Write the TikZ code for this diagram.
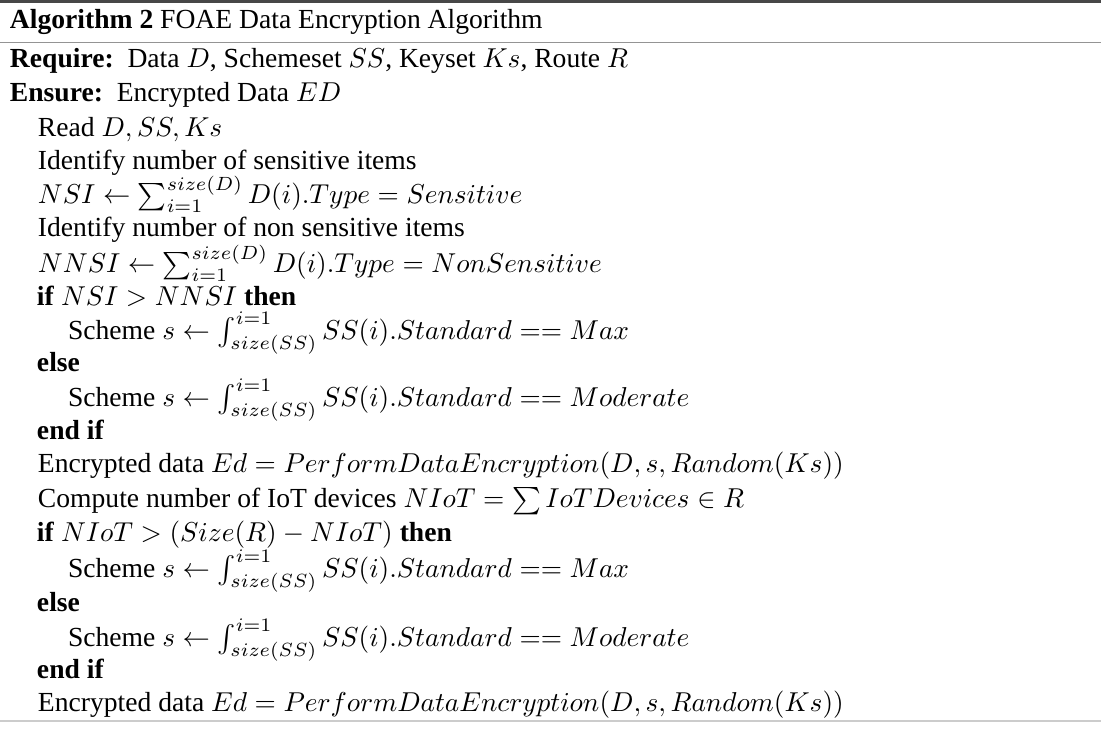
\documentclass[tikz,border=0pt]{standalone}
\usepackage{fontspec}
\setmainfont{Liberation Serif}
% slightly larger math than the surrounding text
\DeclareMathSizes{10.1}{10.45}{7.3}{5.2}
\begin{document}
\begin{tikzpicture}[x=0.366pt, y=-0.366pt,
  line/.style={anchor=base west, inner sep=0pt, outer sep=0pt, font=\fontsize{10.1}{12}\selectfont},
  toprule/.style={line width=0.9pt, draw=black!72},
  midrule/.style={line width=0.7pt, draw=black!42},
  botrule/.style={line width=0.4pt, draw=black!20}]
\useasboundingbox (0,0) rectangle (1101,731);

% float rules
\draw[toprule] (0,1.3) -- (1101,1.3);
\draw[midrule] (0,42.5) -- (1101,42.5);
\draw[botrule] (0,721) -- (1101,721);

% caption
\node[line] (cap) at (10,29) {\textbf{Algorithm 2} FOAE Data Encryption Algorithm};

% algorithm body
\node[line] (req) at (10,68) {\textbf{Require:}\ \ Data $D$, Schemeset $SS$, Keyset $Ks$, Route $R$};
\node[line] (ens) at (10,102) {\textbf{Ensure:}\ \ Encrypted Data $ED$};
\node[line] (s1) at (38,137) {Read $D,SS,Ks$};
\node[line] (s2) at (38,170) {Identify number of sensitive items};
\node[line] (s3) at (38,204) {$NSI \leftarrow \sum_{i=1}^{size(D)} D(i).Type = Sensitive$};
\node[line] (s4) at (38,237) {Identify number of non sensitive items};
\node[line] (s5) at (38,273) {$NNSI \leftarrow \sum_{i=1}^{size(D)} D(i).Type = NonSensitive$};
\node[line] (s6) at (37,306) {\textbf{if} $NSI > NNSI$ \textbf{then}};
\node[line] (s7) at (68,340) {Scheme $s \leftarrow \int_{size(SS)}^{i=1} SS(i).Standard == Max$};
\node[line] (s8) at (37,372) {\textbf{else}};
\node[line] (s9) at (68,407) {Scheme $s \leftarrow \int_{size(SS)}^{i=1} SS(i).Standard == Moderate$};
\node[line] (s10) at (37,440) {\textbf{end if}};
\node[line] (s11) at (38,473) {Encrypted data $Ed = PerformDataEncryption(D,s,Random(Ks))$};
\node[line] (s12) at (38,508) {Compute number of IoT devices $NIoT = \sum IoTDevices \in R$};
\node[line] (s13) at (37,542) {\textbf{if} $NIoT > (Size(R) - NIoT)$ \textbf{then}};
\node[line] (s14) at (68,578) {Scheme $s \leftarrow \int_{size(SS)}^{i=1} SS(i).Standard == Max$};
\node[line] (s15) at (37,612) {\textbf{else}};
\node[line] (s16) at (68,647) {Scheme $s \leftarrow \int_{size(SS)}^{i=1} SS(i).Standard == Moderate$};
\node[line] (s17) at (37,679) {\textbf{end if}};
\node[line] (s18) at (38,712) {Encrypted data $Ed = PerformDataEncryption(D,s,Random(Ks))$};
\end{tikzpicture}
\end{document}
